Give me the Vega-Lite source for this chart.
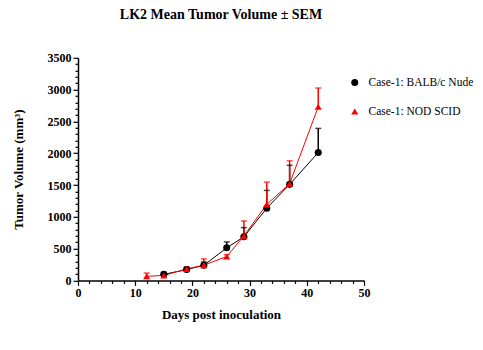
{
  "$schema": "https://vega.github.io/schema/vega-lite/v6.json",
  "width": 286,
  "height": 222.6,
  "autosize": "none",
  "padding": {"left": 78, "top": 57.8, "right": 119, "bottom": 69.6},
  "background": "white",
  "title": {"text": "LK2 Mean Tumor Volume ± SEM", "font": "Liberation Serif", "fontSize": 14, "fontWeight": "bold", "color": "black", "offset": 30, "anchor": "middle"},
  "config": {
    "view": {"stroke": null},
    "axis": {
      "grid": false,
      "domainColor": "black",
      "domainWidth": 1.5,
      "tickColor": "black",
      "tickWidth": 1.2,
      "labelFont": "Liberation Serif",
      "labelFontSize": 12,
      "labelFontWeight": "bold",
      "labelColor": "black",
      "labelOverlap": false,
      "labelFlush": false,
      "labelPadding": 2,
      "titleFont": "Liberation Serif",
      "titleFontSize": 13,
      "titleFontWeight": "bold",
      "titleColor": "black"
    },
    "legend": {
      "orient": "none",
      "legendX": 271,
      "legendY": 19,
      "labelFont": "Liberation Serif",
      "labelFontSize": 11.5,
      "labelColor": "black",
      "labelOffset": 8,
      "labelLimit": 200,
      "rowPadding": 16,
      "symbolSize": 50,
      "symbolStrokeWidth": 0,
      "symbolOpacity": 1
    }
  },
  "data": {"values": [
    {"series": "Case-1: BALB/c Nude", "day": 15, "mean": 95, "upper": 125},
    {"series": "Case-1: BALB/c Nude", "day": 19, "mean": 170, "upper": 200},
    {"series": "Case-1: BALB/c Nude", "day": 22, "mean": 238, "upper": 290},
    {"series": "Case-1: BALB/c Nude", "day": 26, "mean": 512, "upper": 605},
    {"series": "Case-1: BALB/c Nude", "day": 29, "mean": 685, "upper": 830},
    {"series": "Case-1: BALB/c Nude", "day": 33, "mean": 1135, "upper": 1415},
    {"series": "Case-1: BALB/c Nude", "day": 37, "mean": 1510, "upper": 1810},
    {"series": "Case-1: BALB/c Nude", "day": 42, "mean": 2010, "upper": 2390},
    {"series": "Case-1: NOD SCID", "day": 12, "mean": 65, "upper": 115},
    {"series": "Case-1: NOD SCID", "day": 15, "mean": 78, "upper": 100},
    {"series": "Case-1: NOD SCID", "day": 19, "mean": 180, "upper": 215},
    {"series": "Case-1: NOD SCID", "day": 22, "mean": 240, "upper": 338},
    {"series": "Case-1: NOD SCID", "day": 26, "mean": 375, "upper": 405},
    {"series": "Case-1: NOD SCID", "day": 29, "mean": 700, "upper": 935},
    {"series": "Case-1: NOD SCID", "day": 33, "mean": 1195, "upper": 1545},
    {"series": "Case-1: NOD SCID", "day": 37, "mean": 1520, "upper": 1880},
    {"series": "Case-1: NOD SCID", "day": 42, "mean": 2730, "upper": 3025}
  ]},
  "encoding": {
    "x": {
      "field": "day", "type": "quantitative",
      "scale": {"domain": [0, 50], "nice": false},
      "axis": {
        "title": "Days post inoculation",
        "values": [0,2,4,6,8,10,12,14,16,18,20,22,24,26,28,30,32,34,36,38,40,42,44,46,48,50],
        "labelExpr": "datum.value % 10 === 0 ? datum.label : ''",
        "tickSize": {"condition": {"test": "datum.value % 10 === 0", "value": 5}, "value": 3},
        "titlePadding": 10
      }
    },
    "y": {
      "field": "mean", "type": "quantitative",
      "scale": {"domain": [0, 3500], "nice": false},
      "axis": {
        "title": "Tumor Volume (mm³)",
        "format": "d",
        "values": [0,100,200,300,400,500,600,700,800,900,1000,1100,1200,1300,1400,1500,1600,1700,1800,1900,2000,2100,2200,2300,2400,2500,2600,2700,2800,2900,3000,3100,3200,3300,3400,3500],
        "labelExpr": "datum.value % 500 === 0 ? datum.label : ''",
        "tickSize": {"condition": {"test": "datum.value % 500 === 0", "value": 5}, "value": 3},
        "titlePadding": 22
      }
    },
    "color": {
      "field": "series", "type": "nominal",
      "scale": {"domain": ["Case-1: BALB/c Nude", "Case-1: NOD SCID"], "range": ["#000000", "#ff0000"]},
      "legend": {"title": null}
    }
  },
  "layer": [
    {"mark": {"type": "line", "strokeWidth": 1}},
    {"mark": {"type": "rule", "strokeWidth": 1.5}, "encoding": {"y2": {"field": "upper"}}},
    {"mark": {"type": "tick", "orient": "horizontal", "size": 6, "thickness": 1.5}, "encoding": {"y": {"field": "upper", "type": "quantitative"}}},
    {
      "mark": {"type": "point", "filled": true, "size": 50, "opacity": 1},
      "encoding": {
        "shape": {
          "field": "series", "type": "nominal",
          "scale": {"domain": ["Case-1: BALB/c Nude", "Case-1: NOD SCID"], "range": ["circle", "triangle-up"]},
          "legend": {"title": null}
        }
      }
    }
  ]
}
